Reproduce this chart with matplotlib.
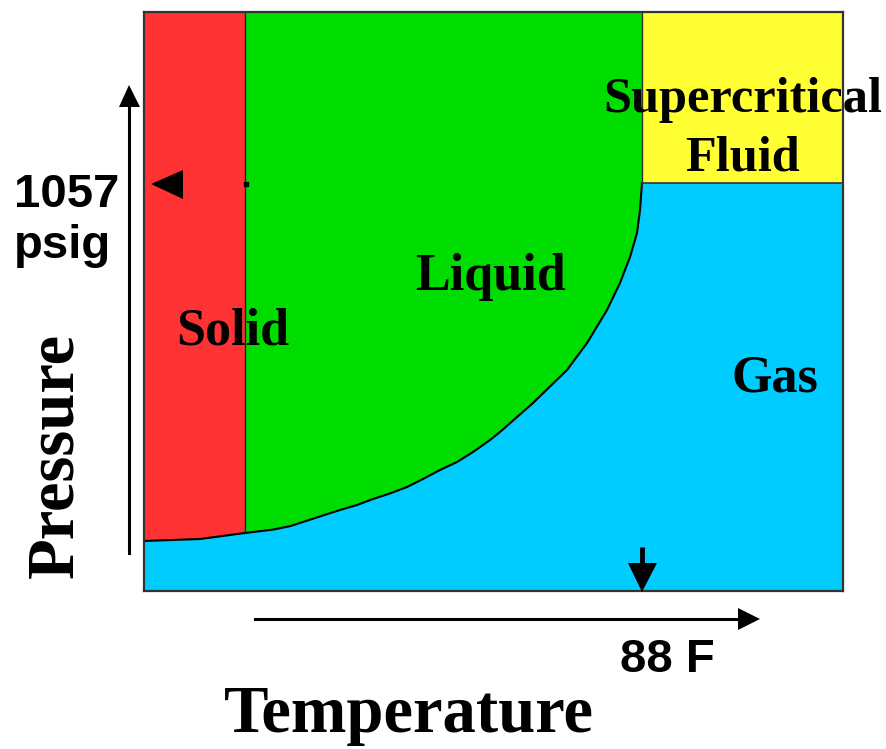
import numpy as np
import matplotlib
matplotlib.use("Agg")
import matplotlib.pyplot as plt
from matplotlib.patches import Polygon, Rectangle

# phase boundary (temperature / pressure as % of the box)
curve_t = [0, 8.01, 14.45, 18.45, 20.89, 23.32, 25.61, 28.04, 30.47, 32.76,
           35.19, 37.63, 39.91, 42.35, 44.78, 47.07, 49.50, 50.93, 55.65,
           60.52, 63.38, 66.24, 68.10, 69.53, 70.53, 70.96, 71.24]
curve_p = [8.64, 8.98, 10.02, 10.60, 11.20, 12.15, 13.05, 13.99, 14.85, 15.89,
           16.85, 17.96, 19.34, 20.90, 22.28, 24.01, 26.08, 27.46, 32.47,
           38.17, 42.83, 48.53, 53.20, 57.69, 61.83, 65.80, 70.47]
triple_t = 14.45
crit_t, crit_p = 71.24, 70.47

phase_colors = {"Solid": "#FF3333", "Liquid": "#00DD00", "Gas": "#00CCFF",
                "Super": "#FFFF33"}

serif = "Liberation Serif"
sans = "Liberation Sans"

W, H = 886, 749
fig = plt.figure(figsize=(W / 100, H / 100), dpi=100)
fig.patch.set_facecolor("white")

# main box
ax = fig.add_axes([144 / W, (H - 591) / H, 699 / W, 579 / H])
ax.set_xlim(0, 100)
ax.set_ylim(0, 100)
ax.set_facecolor(phase_colors["Gas"])
ax.set_xticks([])
ax.set_yticks([])
for s in ax.spines.values():
    s.set_color("#333333")
    s.set_linewidth(1.6)

t = np.array(curve_t)
p = np.array(curve_p)
i_tr = curve_t.index(triple_t)

solid_pts = list(zip(t[:i_tr + 1], p[:i_tr + 1])) + [(triple_t, 100), (0, 100)]
ax.add_patch(Polygon(solid_pts, closed=True, fc=phase_colors["Solid"], ec="none", zorder=1))

liquid_pts = list(zip(t[i_tr:], p[i_tr:])) + [(crit_t, 100), (triple_t, 100)]
ax.add_patch(Polygon(liquid_pts, closed=True, fc=phase_colors["Liquid"], ec="none", zorder=1))

ax.add_patch(Rectangle((crit_t, crit_p), 100 - crit_t, 100 - crit_p,
                       fc=phase_colors["Super"], ec="none", zorder=1))

# boundaries
ax.plot(t, p, color="black", lw=1.5, zorder=2)
ax.plot([triple_t, triple_t], [p[i_tr], 100], color="#222222", lw=1.0, zorder=2)
ax.plot([crit_t, crit_t], [crit_p, 100], color="#333333", lw=1.0, zorder=2)
ax.plot([crit_t, 100], [crit_p, crit_p], color="#333333", lw=1.2, zorder=2)

# region labels
lab = dict(fontfamily=serif, fontweight="bold", fontsize=37.5, ha="center",
           va="baseline", color="black", zorder=5, clip_on=False)
ax.text(12.7, 42.5, "Solid", **lab)
ax.text(49.6, 52.0, "Liquid", **lab)
ax.text(90.3, 34.5, "Gas", **lab)
lab["fontsize"] = 36.3
ax.text(85.6, 82.7, "Supercritical", **lab)
ax.text(85.6, 72.7, "Fluid", **lab)

# overlay in pixel coordinates for arrows and outer labels
ov = fig.add_axes([0, 0, 1, 1])
ov.set_xlim(0, W)
ov.set_ylim(H, 0)
ov.axis("off")
ov.patch.set_alpha(0)

# pressure axis arrow
ov.plot([129, 129], [553, 104], color="black", lw=2.2)
ov.add_patch(Polygon([(129, 85), (119, 107), (140, 107)], closed=True, fc="black", ec="none"))
# temperature axis arrow
ov.plot([255, 741], [619, 619], color="black", lw=2.2)
ov.add_patch(Polygon([(760, 619), (738, 608), (738, 630)], closed=True, fc="black", ec="none"))
# critical temperature marker
ov.plot([642, 642], [547, 565], color="black", lw=3.5, solid_capstyle="butt")
ov.add_patch(Polygon([(628, 563), (657, 563), (642, 592)], closed=True, fc="black", ec="none"))
# critical pressure marker
ov.add_patch(Polygon([(151, 184), (183, 170), (183, 199)], closed=True, fc="black", ec="none"))
ov.plot([246], [184], marker="s", ms=2.5, color="black")

ov.text(14, 207, "1057", fontfamily=sans, fontweight="bold", fontsize=34,
        ha="left", va="baseline")
ov.text(14, 258, "psig", fontfamily=sans, fontweight="bold", fontsize=34,
        ha="left", va="baseline")
ov.text(620, 672, "88 F", fontfamily=sans, fontweight="bold", fontsize=34,
        ha="left", va="baseline")

ov.text(409, 732, "Temperature", fontfamily=serif, fontweight="bold",
        fontsize=48, ha="center", va="baseline")
ov.text(56, 455, "Pressure", fontfamily=serif, fontweight="bold",
        fontsize=48, ha="center", va="center", rotation=90)

fig.savefig("out.png", dpi=100)
